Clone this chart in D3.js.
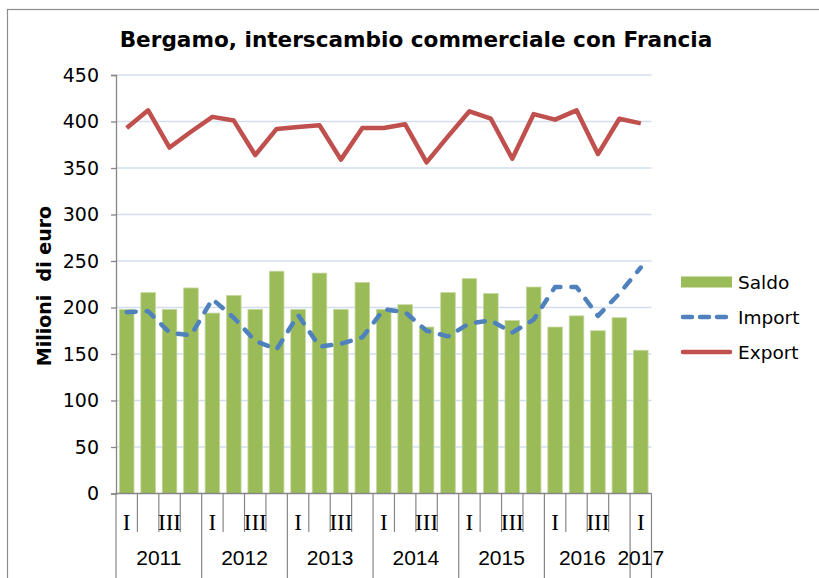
<!DOCTYPE html>
<html><head><meta charset="utf-8">
<script src="https://cdn.jsdelivr.net/npm/d3@7"></script>
<style>body{margin:0;background:#fff}svg{display:block}</style>
</head><body>
<script>
const titleText = "Bergamo, interscambio commerciale con Francia";
const yLabel = "Milioni  di euro";
const quarters = ["I","","III","","I","","III","","I","","III","","I","","III","","I","","III","","I","","III","","I"];
const years = ["2011","2012","2013","2014","2015","2016","2017"];
const yearOfCat = [0,0,0,0,1,1,1,1,2,2,2,2,3,3,3,3,4,4,4,4,5,5,5,5,6];
const saldo  = [198,216,198,221,194,213,198,239,198,237,198,227,198,203,179,216,231,215,186,222,179,191,175,189,154];
const importV = [195,196,173,170,209,189,164,155,192,158,161,168,198,195,175,169,183,186,173,187,222,222,191,215,243];
const exportV = [393,412,372,389,405,401,364,392,394,396,359,393,393,397,356,384,411,403,360,408,402,412,365,403,398];
const yTicks = [0,50,100,150,200,250,300,350,400,450];
const seriesNames = ["Saldo","Import","Export"];

(function(){
const W = 819, H = 578;
const colGreen = "#9BBB59", colBlue = "#4F81BD", colRed = "#C0504D";
const svg = d3.select("body").append("svg").attr("width", W).attr("height", H);
svg.append("rect").attr("width", W).attr("height", H).attr("fill", "#fff");
svg.append("rect").attr("x", 7.5).attr("y", 9.5).attr("width", W + 20).attr("height", H + 20)
  .attr("fill", "none").attr("stroke", "#8c8c8c").attr("stroke-width", 1.2);

const pL = 116, pR = 651.5, pT = 75, pB = 493.5;
const idx = d3.range(saldo.length);
const x = d3.scaleBand().domain(idx).range([pL, pR]).paddingInner(0.32).paddingOuter(0.16);
const xb = d3.scaleLinear().domain([0, saldo.length]).range([pL, pR]);
const y = d3.scaleLinear().domain([0, 450]).range([pB, pT]);
const cx = i => x(i) + x.bandwidth() / 2;

// gridlines
svg.append("g").selectAll("line").data(yTicks.filter(t => t > 0)).join("line")
  .attr("x1", pL).attr("x2", pR).attr("y1", d => y(d)).attr("y2", d => y(d))
  .attr("stroke", "#d3ddef").attr("stroke-width", 1.3);

// y axis
const yAxis = d3.axisLeft(y).tickValues(yTicks).tickSize(5).tickPadding(12);
const gy = svg.append("g").attr("transform", `translate(${pL},0)`).call(yAxis);
gy.select(".domain").attr("stroke", "#868686").attr("stroke-width", 1.3);
gy.selectAll(".tick line").attr("stroke", "#868686").attr("stroke-width", 1.3);
gy.selectAll(".tick text").attr("font-family", "DejaVu Sans, Verdana, sans-serif")
  .attr("font-size", 19).attr("fill", "#000");

// bars
svg.append("g").selectAll("rect").data(saldo).join("rect")
  .attr("x", (d, i) => x(i)).attr("width", x.bandwidth())
  .attr("y", d => y(d)).attr("height", d => y(0) - y(d))
  .attr("fill", colGreen).attr("stroke", "#c4d79f").attr("stroke-width", 0.8);

// lines
const line = d3.line().x((d, i) => cx(i)).y(d => y(d));
svg.append("path").datum(importV).attr("d", line).attr("fill", "none")
  .attr("stroke", colBlue).attr("stroke-width", 4.5).attr("stroke-dasharray", "9,11")
  .attr("stroke-linecap", "round").attr("stroke-linejoin", "round");
svg.append("path").datum(exportV).attr("d", line).attr("fill", "none")
  .attr("stroke", colRed).attr("stroke-width", 4.5).attr("stroke-linejoin", "round");

// x axis
const gx = svg.append("g");
gx.append("line").attr("x1", pL).attr("x2", pR).attr("y1", pB).attr("y2", pB)
  .attr("stroke", "#868686").attr("stroke-width", 1.3);
const bounds = d3.range(saldo.length + 1);
gx.selectAll("line.b").data(bounds).join("line").attr("class", "b")
  .attr("x1", d => xb(d)).attr("x2", d => xb(d)).attr("y1", pB)
  .attr("y2", d => (d === 0 || d === saldo.length || yearOfCat[d] !== yearOfCat[d - 1]) ? H : 532)
  .attr("stroke", "#868686").attr("stroke-width", 1.2);
gx.selectAll("text.q").data(quarters).join("text").attr("class", "q")
  .attr("x", (d, i) => cx(i)).attr("y", 522).attr("text-anchor", "middle")
  .attr("dominant-baseline", "central")
  .attr("font-family", "Liberation Serif, Times New Roman, serif").attr("font-size", 23)
  .text(d => d);
gx.selectAll("text.yr").data(years).join("text").attr("class", "yr")
  .attr("x", (d, k) => {
    const cats = idx.filter(i => yearOfCat[i] === k);
    return (xb(cats[0]) + xb(cats[cats.length - 1] + 1)) / 2 + (k === 5 ? -5 : 0);
  })
  .attr("y", 557).attr("text-anchor", "middle").attr("dominant-baseline", "central")
  .attr("font-family", "Liberation Sans, Arial, sans-serif").attr("font-size", 21)
  .text(d => d);

// title
const title = svg.append("text").attr("x", 416).attr("y", 47).attr("text-anchor", "middle")
  .attr("font-family", "DejaVu Sans, Verdana, sans-serif").attr("font-weight", "bold")
  .attr("font-size", 20).text(titleText);
const tl = title.node().getComputedTextLength();
title.attr("font-size", 20 * 593 / tl);

// y label
svg.append("text").attr("transform", "translate(44,286) rotate(-90)")
  .attr("text-anchor", "middle").attr("dominant-baseline", "central")
  .attr("font-family", "DejaVu Sans, Verdana, sans-serif").attr("font-weight", "bold")
  .attr("font-size", 19).style("white-space", "pre").text(yLabel);

// legend
const lg = svg.append("g");
const ly = [282, 317, 352];
lg.append("rect").attr("x", 681).attr("y", ly[0] - 5.5).attr("width", 51).attr("height", 11).attr("fill", colGreen);
lg.append("line").attr("x1", 683).attr("x2", 730).attr("y1", ly[1]).attr("y2", ly[1])
  .attr("stroke", colBlue).attr("stroke-width", 4.5).attr("stroke-dasharray", "9,8").attr("stroke-linecap", "round");
lg.append("line").attr("x1", 683).attr("x2", 730).attr("y1", ly[2]).attr("y2", ly[2])
  .attr("stroke", colRed).attr("stroke-width", 4.5).attr("stroke-linecap", "round");
lg.selectAll("text").data(seriesNames).join("text")
  .attr("x", 738).attr("y", (d, i) => ly[i]).attr("dominant-baseline", "central")
  .attr("font-family", "DejaVu Sans, Verdana, sans-serif").attr("font-size", 18.5)
  .text(d => d);
})();
</script>
</body></html>
